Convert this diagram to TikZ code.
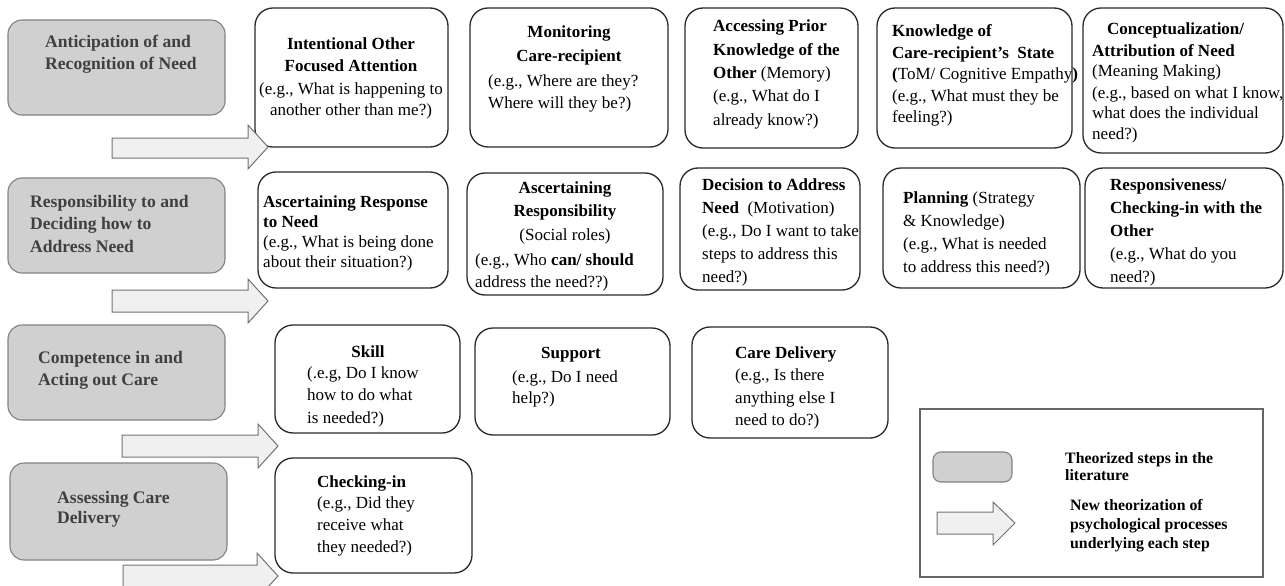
\documentclass[tikz,border=0pt]{standalone}
\usepackage{fontspec}
\setmainfont{Liberation Serif}
\usetikzlibrary{fit}
\definecolor{gfill}{RGB}{208,208,208}
\definecolor{gline}{RGB}{130,130,130}
\definecolor{gtext}{RGB}{64,64,64}
\definecolor{afill}{RGB}{240,240,240}
\definecolor{aline}{RGB}{115,115,115}
\definecolor{wline}{RGB}{40,40,40}
\newcommand{\LL}[1]{\begin{tabular}[t]{@{}l@{}}#1\end{tabular}}
\newcommand{\CC}[1]{\begin{tabular}[t]{@{}c@{}}#1\end{tabular}}
\tikzset{
  wbox/.style={draw=wline, line width=1.3pt, rounded corners=18pt, inner sep=0pt, fill=white},
  gbox/.style={draw=gline, line width=1.1pt, rounded corners=14pt, inner sep=0pt, fill=gfill},
  lbox/.style={draw=gray!80!black, line width=1.2pt, inner sep=0pt},
  bigarrow/.style={draw=aline, line width=1pt, fill=afill},
  fs/.style={font=\fontsize{17}{#1}\selectfont},
  txt/.style={inner sep=0pt, anchor=base west, text=black},
  ctxt/.style={inner sep=0pt, anchor=base, text=black},
  gtxt/.style={inner sep=0pt, anchor=base west, text=gtext, font=\fontsize{17.6}{#1}\selectfont\bfseries},
  legtxt/.style={inner sep=0pt, anchor=base west, text=black, font=\fontsize{15.8}{#1}\selectfont\bfseries}
}
\begin{document}
\begin{tikzpicture}[x=1pt,y=-1pt]
\useasboundingbox (0,0) rectangle (1285,586);
% gray boxes
\node[gbox, fit={(8,20)(225,115)}] (g1) {};
\node[gbox, fit={(8,178)(225,273)}] (g2) {};
\node[gbox, fit={(8,325)(225,420)}] (g3) {};
\node[gbox, fit={(10,463)(227,560)}] (g4) {};
\node[gtxt=22] (g1t) at (45,48) {\LL{Anticipation of and\\Recognition of Need}};
\node[gtxt=22.5] (g2t) at (30,207) {\LL{Responsibility to and\\Deciding how to\\Address Need}};
\node[gtxt=22] (g3t) at (38,363) {\LL{Competence in and\\Acting out Care}};
\node[gtxt=20] (g4t) at (57,503) {\LL{Assessing Care\\Delivery}};
% white boxes row 1
\node[wbox, fit={(255,8)(448,147)}] (w11) {};
\node[wbox, fit={(470,8)(668,147)}] (w12) {};
\node[wbox, fit={(685,8)(858,148)}] (w13) {};
\node[wbox, fit={(877,8)(1072,148)}] (w14) {};
\node[wbox, fit={(1083,8)(1283,153)}] (w15) {};
% row 2
\node[wbox, fit={(258,172)(448,288)}] (w21) {};
\node[wbox, fit={(467,173)(663,295)}] (w22) {};
\node[wbox, fit={(680,168)(860,290)}] (w23) {};
\node[wbox, fit={(883,168)(1080,288)}] (w24) {};
\node[wbox, fit={(1085,168)(1283,288)}] (w25) {};
% row 3
\node[wbox, fit={(275,325)(460,433)}] (w31) {};
\node[wbox, fit={(475,328)(670,435)}] (w32) {};
\node[wbox, fit={(692,327)(888,438)}] (w33) {};
% row 4
\node[wbox, fit={(275,458)(472,573)}] (w41) {};
% texts row 1
\node[ctxt, fs=22] (t11) at (351,50) {\CC{\textbf{Intentional Other}\\\textbf{Focused Attention}\\(e.g., What is happening to\\another other than me?)}};
\node[ctxt, fs=24] (t12h) at (569,38) {\CC{\textbf{Monitoring}\\\textbf{Care-recipient}}};
\node[txt, fs=21.5] (t12b) at (488,87) {\LL{(e.g., Where are they?\\Where will they be?)}};
\node[txt, fs=23.3] (t13) at (713,32) {\LL{\textbf{Accessing Prior}\\\textbf{Knowledge of the}\\\textbf{Other} (Memory)\\(e.g., What do I\\already know?)}};
\node[txt, fs=21.5] (t14) at (892,37) {\LL{\textbf{Knowledge of}\\\textbf{Care-recipient’s\ \ State}\\\textbf{(}ToM/ Cognitive Empathy\textbf{)}\\(e.g., What must they be\\feeling?)}};
\node[txt, fs=21] (t15) at (1092,35) {\LL{\hspace{15pt}\textbf{Conceptualization/}\\\textbf{Attribution of Need}\\(Meaning Making)\\(e.g., based on what I know,\\what does the individual\\need?)}};
% texts row 2
\node[txt, fs=20] (t21) at (263,207) {\LL{\textbf{Ascertaining Response}\\\textbf{to Need}\\(e.g., What is being done\\about their situation?)}};
\node[ctxt, fs=23.5] (t22h) at (565,193) {\CC{\textbf{Ascertaining}\\\textbf{Responsibility}\\(Social roles)}};
\node[txt, fs=22] (t22b) at (475,265) {\LL{(e.g., Who \textbf{can/ should}\\address the need??)}};
\node[txt, fs=23] (t23) at (702,190) {\LL{\textbf{Decision to Address}\\\textbf{Need}\ \ (Motivation)\\(e.g., Do I want to take\\steps to address this\\need?)}};
\node[txt, fs=23] (t24) at (903,203) {\LL{\textbf{Planning} (Strategy\\\& Knowledge)\\(e.g., What is needed\\to address this need?)}};
\node[txt, fs=23] (t25) at (1110,190) {\LL{\textbf{Responsiveness/}\\\textbf{Checking-in with the}\\\textbf{Other}\\(e.g., What do you\\need?)}};
% texts row 3
\node[ctxt, fs=22] (t31h) at (368,357) {\textbf{Skill}};
\node[txt, fs=22.5] (t31b) at (307,378) {\LL{(.e.g, Do I know\\how to do what\\is needed?)}};
\node[ctxt, fs=22] (t32h) at (571,358) {\textbf{Support}};
\node[txt, fs=21.5] (t32b) at (512,382) {\LL{(e.g., Do I need\\help?)}};
\node[txt, fs=22.5] (t33) at (735,358) {\LL{\textbf{Care Delivery}\\(e.g., Is there\\anything else I\\need to do?)}};
% row 4
\node[txt, fs=21.7] (t41) at (317,487) {\LL{\textbf{Checking-in}\\(e.g., Did they\\receive what\\they needed?)}};
% arrows
\draw[bigarrow] (112,138) -- (248,138) -- (248,125) -- (268,147) -- (248,169) -- (248,158) -- (112,158) -- cycle;
\draw[bigarrow] (112,290) -- (248,290) -- (248,279) -- (268,301) -- (248,323) -- (248,312) -- (112,312) -- cycle;
\draw[bigarrow] (122,435) -- (258,435) -- (258,424) -- (278,446) -- (258,468) -- (258,457) -- (122,457) -- cycle;
\draw[bigarrow] (123,565) -- (257,565) -- (257,553) -- (278,576) -- (257,599) -- (257,587) -- (123,587) -- cycle;
% legend
\node[lbox, fit={(920,409)(1263,577)}] (leg) {};
\node[gbox, rounded corners=8pt, fit={(933,452)(1012,482)}] (legg) {};
\draw[bigarrow] (937,512) -- (993,512) -- (993,502) -- (1015,523) -- (993,545) -- (993,534) -- (937,534) -- cycle;
\node[legtxt=17] (legt1) at (1065,463) {\LL{Theorized steps in the\\literature}};
\node[legtxt=19] (legt2) at (1070,510) {\LL{New theorization of\\psychological processes\\underlying each step}};
\end{tikzpicture}
\end{document}
